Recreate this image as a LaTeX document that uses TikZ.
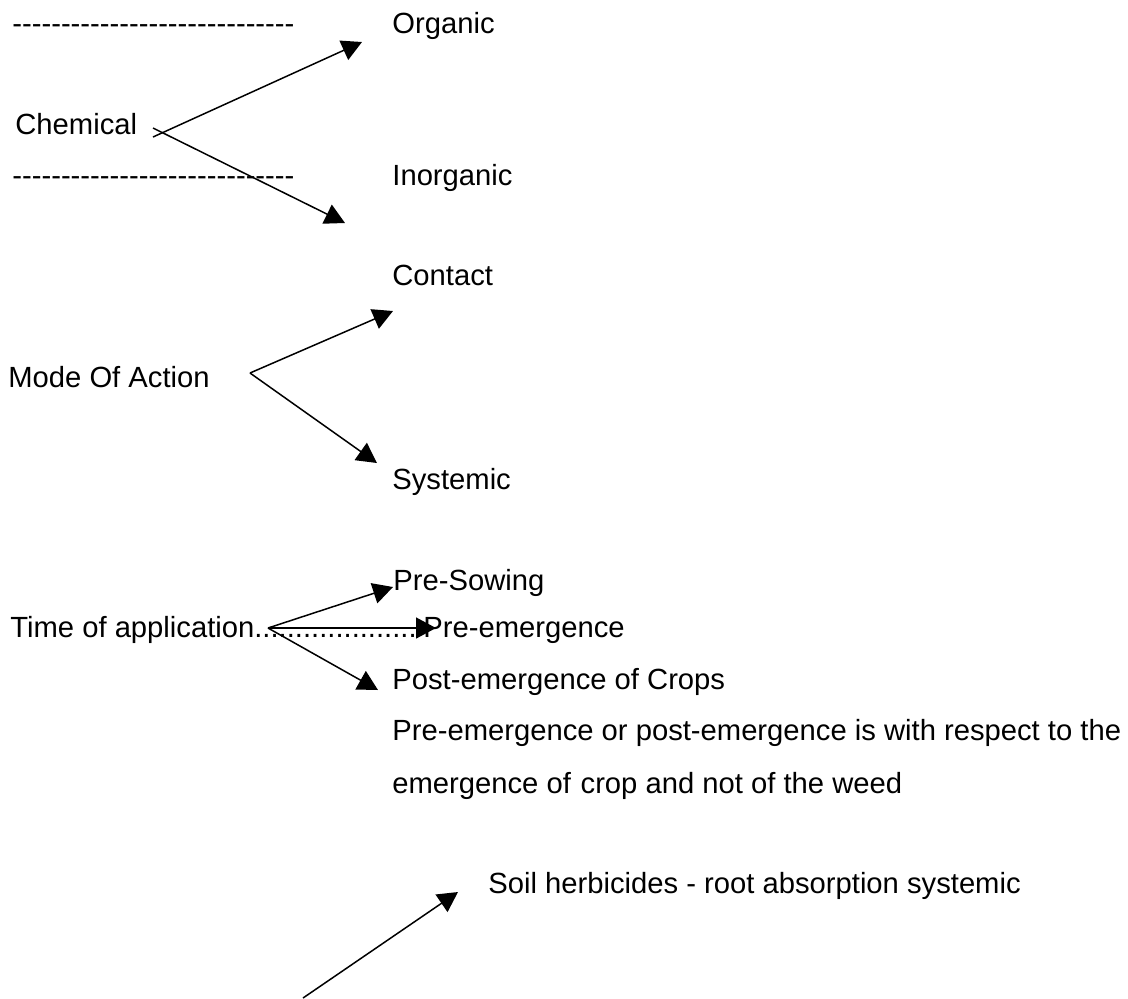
\documentclass[tikz,border=0pt]{standalone}
\usepackage{fontspec}
\setmainfont{Liberation Sans}[Ligatures=TeXOff]
\usetikzlibrary{arrows.meta}
\begin{document}
\begin{tikzpicture}[x=0.5pt, y=-0.5pt, font=\fontsize{14.6}{17}\selectfont, line join=round, >={Triangle[length=10pt,width=10.5pt]}, lbl/.style={anchor=base west, inner sep=0pt}, arr/.style={->, line width=0.75pt}]
\useasboundingbox (0,0) rectangle (1128,998);
% labels
\node[lbl] (dashA) at (12,33) {-----------------------------};
\node[lbl] (organic) at (392,33) {Organic};
\node[lbl] (chemical) at (15,134) {Chemical};
\node[lbl] (dashB) at (12,185) {-----------------------------};
\node[lbl] (inorganic) at (392,185) {Inorganic};
\node[lbl] (contact) at (392,285) {Contact};
\node[lbl] (mode) at (8,387) {Mode Of Action};
\node[lbl] (systemic) at (392,489) {Systemic};
\node[lbl] (presow) at (393,590) {Pre-Sowing};
\node[lbl] (time) at (10,637) {Time of application....................};
\node[lbl] (preem) at (423,637) {Pre-emergence};
\node[lbl] (postem) at (392,689) {Post-emergence of Crops};
\node[lbl] (noteA) at (392,740) {Pre-emergence or post-emergence is with respect to the};
\node[lbl] (noteB) at (392,793) {emergence of\,\,crop and not of the weed};
\node[lbl] (soil) at (488,893) {Soil herbicides - root absorption systemic};
% arrow ends
\path (153,137) coordinate (chemUp) (153,128) coordinate (chemDn)
      (362,42) coordinate (tipOrg) (345,223) coordinate (tipInorg)
      (250,373) coordinate (modeO) (393,311) coordinate (tipCont) (377,463) coordinate (tipSys)
      (268,628) coordinate (timeO) (393,587) coordinate (tipSow) (436,628) coordinate (tipPre) (378,690) coordinate (tipPost)
      (303,998) coordinate (soilO) (458,892) coordinate (tipSoil);
\draw[arr] (chemUp) -- (tipOrg);
\draw[arr] (chemDn) -- (tipInorg);
\draw[arr] (modeO) -- (tipCont);
\draw[arr] (modeO) -- (tipSys);
\draw[arr] (timeO) -- (tipSow);
\draw[arr] (timeO) -- (tipPre);
\draw[arr] (timeO) -- (tipPost);
\draw[arr] (soilO) -- (tipSoil);
\end{tikzpicture}
\end{document}
